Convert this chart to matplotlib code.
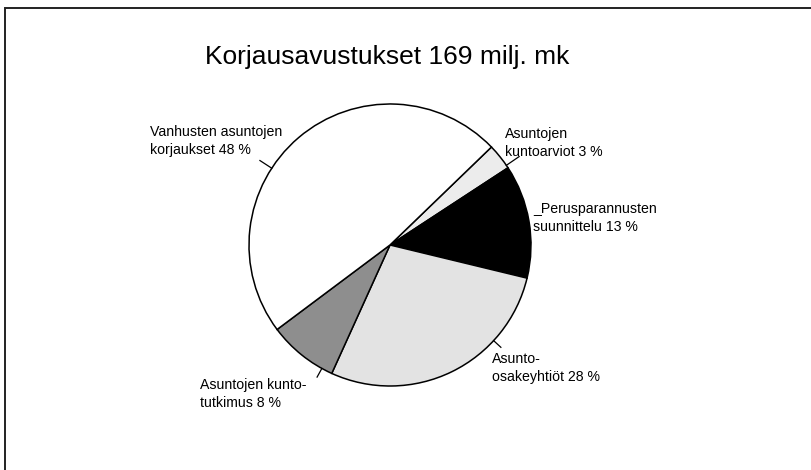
import numpy as np
import matplotlib.pyplot as plt

plt.rcParams['font.family'] = ['Liberation Sans', 'DejaVu Sans']

title = 'Korjausavustukset 169 milj. mk'
labels = ['Asuntojen\nkuntoarviot 3 %',
          '_Perusparannusten\nsuunnittelu 13 %',
          'Asunto-\nosakeyhtiöt 28 %',
          'Asuntojen kunto-\ntutkimus 8 %',
          'Vanhusten asuntojen\nkorjaukset 48 %']
shares = [3, 13, 28, 8, 48]
colors = ['#ececec', '#000000', '#e3e3e3', '#8e8e8e', '#ffffff']

# label block centres (pixels from top-left) and leader line angles (deg)
label_pos = [(505, 143), (533, 218), (492, 368), (200, 394), (150, 141)]
leader_ang = [34.4, None, -42.7, -118.9, 147.0]
leader_len = [0.11, None, 0.07, 0.07, 0.10]

W, H = 812, 470
fig = plt.figure(figsize=(W / 100, H / 100), dpi=100)

# pie: centre (390, 245) px, radius 141 px
cx, cy, r = 390, 245, 141
ax = fig.add_axes([(cx - r) / W, (H - cy - r) / H, 2 * r / W, 2 * r / H])
ax.pie(shares, colors=colors, startangle=44, counterclock=False,
       wedgeprops=dict(edgecolor='black', linewidth=1.1))
ax.set_xlim(-1, 1)
ax.set_ylim(-1, 1)
ax.axis('off')

for ang, ln in zip(leader_ang, leader_len):
    if ang is None:
        continue
    t = np.deg2rad(ang)
    ax.plot([np.cos(t), (1 + ln) * np.cos(t)], [np.sin(t), (1 + ln) * np.sin(t)],
            color='black', lw=0.9, clip_on=False)

# overlay in pixel coordinates for texts and frame
ov = fig.add_axes([0, 0, 1, 1], zorder=-1)
ov.set_xlim(0, W)
ov.set_ylim(H, 0)
ov.axis('off')

ov.plot([5, 5, W], [H, 8, 8], color='#222222', lw=1.4, solid_joinstyle='miter')

ov.text(387, 57, title, fontsize=19, ha='center', va='center')
for lab, (x, y) in zip(labels, label_pos):
    ov.text(x, y, lab, fontsize=10.2, ha='left', va='center', linespacing=1.4)

fig.savefig('out.png', dpi=100)
